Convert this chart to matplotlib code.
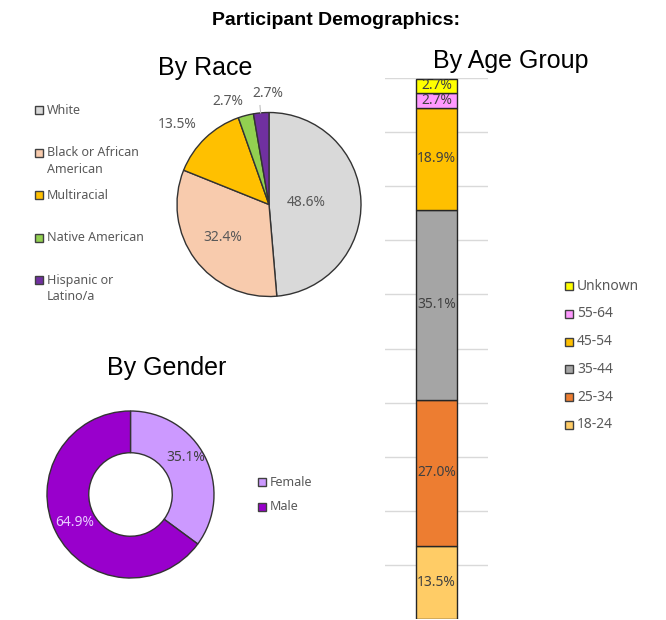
import numpy as np
import matplotlib
matplotlib.use("Agg")
from matplotlib import pyplot as plt
from matplotlib.patches import Rectangle

# data (percent of 37 participants)
race_labels = ["White", "Black or African\nAmerican", "Multiracial", "Native American", "Hispanic or\nLatino/a"]
race_vals = [48.6, 32.4, 13.5, 2.7, 2.7]
race_colors = ["#D9D9D9", "#F8CBAD", "#FFC000", "#92D050", "#7030A0"]

gender_labels = ["Female", "Male"]
gender_vals = [35.1, 64.9]
gender_colors = ["#CC99FF", "#9900CC"]

age_labels = ["18-24", "25-34", "35-44", "45-54", "55-64", "Unknown"]
age_vals = [13.5, 27.0, 35.1, 18.9, 2.7, 2.7]
age_colors = ["#FFCC66", "#ED7D31", "#A5A5A5", "#FFC000", "#FF99FF", "#FFFF00"]

W, H = 666, 620
fig = plt.figure(figsize=(W/100, H/100), dpi=100)
fig.patch.set_facecolor("white")

TXT = "#595959"
LAB = "#404040"
EDGE = "#333333"
SANS = ["Noto Sans", "DejaVu Sans"]
HEAD = ["Liberation Sans", "DejaVu Sans"]


def px_axes(x0, y0, x1, y1):
    return fig.add_axes([x0/W, 1-y1/H, (x1-x0)/W, (y1-y0)/H])


def fxy(x, y):
    return x/W, 1-y/H


def legend_item(x, y, color, label, size=9):
    # y = centre of the first text line, in pixels from the top
    fig.patches.append(Rectangle(fxy(x, y+4), 8/W, 8/H, transform=fig.transFigure,
                                 facecolor=color, edgecolor=LAB, linewidth=1))
    for k, line in enumerate(label.split("\n")):
        fig.text(*fxy(x+12, y + 16.5*k), line, fontsize=size, color=TXT, family=SANS,
                 va="center", ha="left")


def mid_angles(vals):
    cum = np.cumsum([0] + list(vals))
    return [90 - 3.6*(cum[i] + vals[i]/2) for i in range(len(vals))]


# headings
fig.text(*fxy(336, 25), "Participant Demographics:", fontsize=14, fontweight="bold",
         family=HEAD, ha="center", va="baseline")
fig.text(*fxy(205, 75), "By Race", fontsize=18, family=HEAD, ha="center", va="baseline")
fig.text(*fxy(511, 68), "By Age Group", fontsize=18, family=HEAD, ha="center", va="baseline")
fig.text(*fxy(167, 375), "By Gender", fontsize=18, family=HEAD, ha="center", va="baseline")

# race pie
pad = 1.05
cx, cy, r = 269, 204.5, 92
ax = px_axes(cx-r*pad, cy-r*pad, cx+r*pad, cy+r*pad)
ax.pie(race_vals, colors=race_colors, startangle=90, counterclock=False,
       wedgeprops=dict(edgecolor=EDGE, linewidth=1))
ax.set_xlim(-pad, pad)
ax.set_ylim(-pad, pad)
ax.set_aspect("equal")
ax.axis("off")
race_dist = [0.40, 0.62, 1.32, 1.20, 1.21]
race_nudge = [0, -1.7, 4.9, 6.8, -4.5]
for v, a, d, n in zip(race_vals, mid_angles(race_vals), race_dist, race_nudge):
    t = np.radians(a + n)
    ax.text(d*np.cos(t), d*np.sin(t), f"{v:.1f}%", fontsize=10, color=TXT,
            family=SANS, ha="center", va="center")
# leader line for the last slice
t = np.radians(mid_angles(race_vals)[-1])
ax.plot([np.cos(t), 1.08*np.cos(t)], [np.sin(t), 1.08*np.sin(t)], color="#BFBFBF", lw=0.8,
        clip_on=False)

for i, (lab, col) in enumerate(zip(race_labels, race_colors)):
    legend_item(35, 110 + 42.6*i, col, lab)

# gender donut
cx, cy, r = 130.5, 494.5, 83.5
ax = px_axes(cx-r*pad, cy-r*pad, cx+r*pad, cy+r*pad)
ax.pie(gender_vals, colors=gender_colors, startangle=90, counterclock=False,
       wedgeprops=dict(width=0.5, edgecolor=EDGE, linewidth=1))
ax.set_xlim(-pad, pad)
ax.set_ylim(-pad, pad)
ax.set_aspect("equal")
ax.axis("off")
gender_dist = [0.79, 0.75]
gender_nudge = [6.8, 0.2]
gender_txt = [LAB, "#E8CCFF"]
for v, a, d, n, c in zip(gender_vals, mid_angles(gender_vals), gender_dist, gender_nudge, gender_txt):
    t = np.radians(a + n)
    ax.text(d*np.cos(t), d*np.sin(t), f"{v:.1f}%", fontsize=10, color=c,
            family=SANS, ha="center", va="center")
for i, (lab, col) in enumerate(zip(gender_labels, gender_colors)):
    legend_item(258, 482 + 25*i, col, lab)

# age stacked bar
ax = px_axes(385, 78, 488, 619)
bottom = 0
for v, col in zip(age_vals, age_colors):
    ax.bar(0, v, width=0.8, bottom=bottom, color=col, edgecolor="#262626", linewidth=1, zorder=3)
    ax.text(0, bottom + v/2, f"{v:.1f}%", fontsize=10, color=LAB, family=SANS,
            ha="center", va="center", zorder=4)
    bottom += v
ax.set_xlim(-1, 1)
ax.set_ylim(0, 100)
ax.set_yticks(np.arange(10, 101, 10))
ax.set_xticks([])
ax.tick_params(left=False, labelleft=False)
ax.grid(axis="y", color="#D9D9D9", linewidth=1, zorder=0)
for s in ax.spines.values():
    s.set_visible(False)

for i, (lab, col) in enumerate(zip(age_labels[::-1], age_colors[::-1])):
    legend_item(565, 286 + 27.8*i, col, lab, size=10)

fig.savefig("out.png", dpi=100)
